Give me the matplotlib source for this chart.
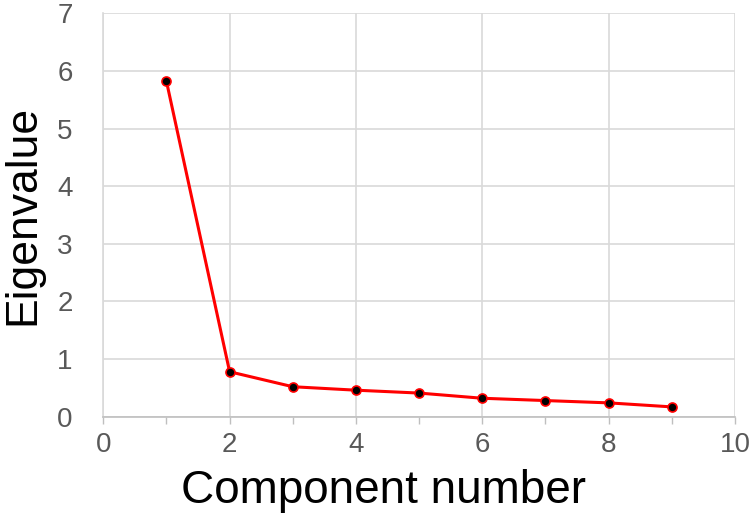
import matplotlib
matplotlib.use("Agg")
import matplotlib.pyplot as plt
from matplotlib.ticker import MultipleLocator

# scree plot data
components = [1, 2, 3, 4, 5, 6, 7, 8, 9]
eigenvalues = [5.82, 0.78, 0.52, 0.46, 0.41, 0.32, 0.28, 0.24, 0.17]

x_ticks = [0, 2, 4, 6, 8, 10]
y_ticks = [0, 1, 2, 3, 4, 5, 6, 7]

plt.rcParams['font.family'] = ['Liberation Sans', 'DejaVu Sans']

fig = plt.figure(figsize=(7.5, 5.21), dpi=100)
ax = fig.add_axes([0.1377, 0.2002, 0.8423, 0.7743])

ax.plot(components, eigenvalues, color='#ff0000', linewidth=2.2,
        marker='o', markersize=6.5, markerfacecolor='black',
        markeredgecolor='#ff0000', markeredgewidth=1.2, zorder=3)

ax.set_xlim(0, 10)
ax.set_ylim(0, 7)
ax.set_xticks(x_ticks)
ax.set_yticks(y_ticks)
ax.xaxis.set_minor_locator(MultipleLocator(1))

ax.grid(True, which='major', color='#d9d9d9', linewidth=1.2)
ax.set_axisbelow(True)

for side in ['top', 'right']:
    ax.spines[side].set_visible(False)
ax.spines['left'].set_color('#d9d9d9')
ax.spines['left'].set_linewidth(1.2)
ax.spines['bottom'].set_color('#bfbfbf')
ax.spines['bottom'].set_linewidth(1.2)

ax.tick_params(axis='x', which='both', direction='out', length=5,
               color='#bfbfbf', width=1, labelsize=20, labelcolor='#595959', pad=6)
ax.tick_params(axis='y', which='both', length=0, labelsize=20,
               labelcolor='#595959', pad=22)

ax.set_xlabel('Component number', fontsize=33, color='black')
ax.xaxis.set_label_coords(0.444, -0.13)
ax.set_ylabel('Eigenvalue', fontsize=32, color='black', labelpad=10)

fig.savefig('out.png', dpi=100)
